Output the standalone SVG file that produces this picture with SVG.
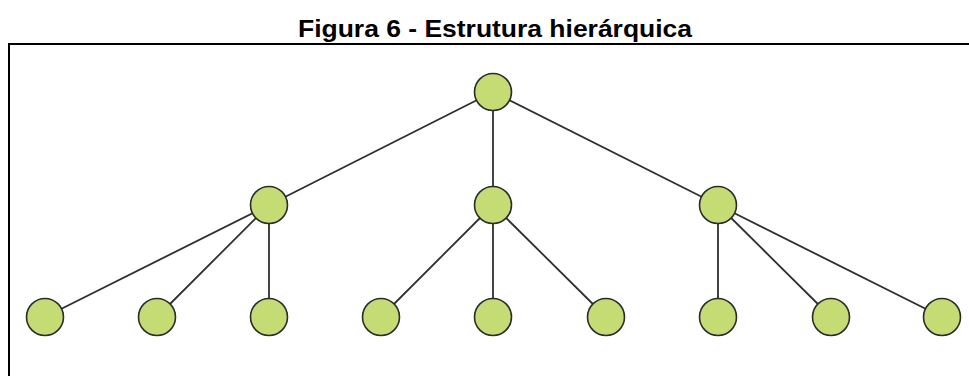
<svg xmlns="http://www.w3.org/2000/svg" width="969" height="376" viewBox="0 0 969 376">
  <style>
    .title { font-family: "Liberation Sans", Arial, sans-serif; font-weight: bold; font-size: 24px; fill: #000; }
    .frame { fill: none; stroke: #000; stroke-width: 2; }
    .edge { stroke: #2e2e2e; stroke-width: 1.8; fill: none; }
    .node circle { fill: #c5dc74; stroke: #2b2b2b; stroke-width: 1.6; }
  </style>
  <rect width="969" height="376" fill="#fff"/>
  <text class="title" x="298" y="37" textLength="394" lengthAdjust="spacingAndGlyphs">Figura 6 - Estrutura hierárquica</text>
  <path class="frame" d="M9,376 V44 H969"/>

  <g id="connectors">
    <line class="edge" x1="493" y1="92" x2="269" y2="205"/>
    <line class="edge" x1="493" y1="92" x2="493" y2="205"/>
    <line class="edge" x1="493" y1="92" x2="718" y2="205"/>
    <line class="edge" x1="269" y1="205" x2="45" y2="317"/>
    <line class="edge" x1="269" y1="205" x2="157" y2="317"/>
    <line class="edge" x1="269" y1="205" x2="269" y2="317"/>
    <line class="edge" x1="493" y1="205" x2="381" y2="317"/>
    <line class="edge" x1="493" y1="205" x2="493" y2="317"/>
    <line class="edge" x1="493" y1="205" x2="606" y2="317"/>
    <line class="edge" x1="718" y1="205" x2="718" y2="317"/>
    <line class="edge" x1="718" y1="205" x2="831" y2="317"/>
    <line class="edge" x1="718" y1="205" x2="942" y2="317"/>
  </g>

  <g id="root" class="node"><circle cx="493" cy="92" r="18.5"/></g>
  <g id="mid-1" class="node"><circle cx="269" cy="205" r="18.5"/></g>
  <g id="mid-2" class="node"><circle cx="493" cy="205" r="18.5"/></g>
  <g id="mid-3" class="node"><circle cx="718" cy="205" r="18.5"/></g>
  <g id="leaf-1" class="node"><circle cx="45" cy="317" r="18.5"/></g>
  <g id="leaf-2" class="node"><circle cx="157" cy="317" r="18.5"/></g>
  <g id="leaf-3" class="node"><circle cx="269" cy="317" r="18.5"/></g>
  <g id="leaf-4" class="node"><circle cx="381" cy="317" r="18.5"/></g>
  <g id="leaf-5" class="node"><circle cx="493" cy="317" r="18.5"/></g>
  <g id="leaf-6" class="node"><circle cx="606" cy="317" r="18.5"/></g>
  <g id="leaf-7" class="node"><circle cx="718" cy="317" r="18.5"/></g>
  <g id="leaf-8" class="node"><circle cx="831" cy="317" r="18.5"/></g>
  <g id="leaf-9" class="node"><circle cx="942" cy="317" r="18.5"/></g>
</svg>
